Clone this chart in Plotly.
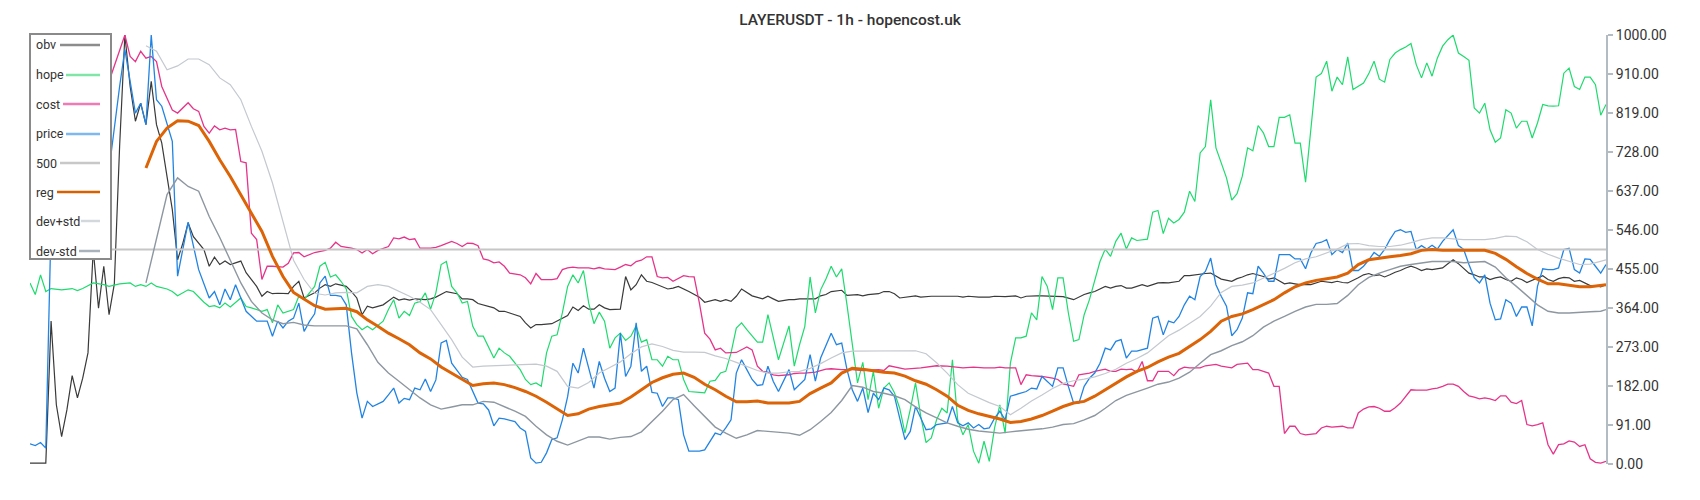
import plotly.graph_objects as go

# ---- data: (bar index, value) pairs, bar index 0..299 ----
price_pts = [
    (0, 47), (1, 43), (2, 50), (3, 37), (4, 560), (5, 610), (6, 650), (7, 630), (8, 690), (9, 700),
    (10, 660), (11, 720), (12, 700), (13, 740), (14, 710), (15, 686), (17, 880), (18, 966), (20, 818),
    (21, 841), (22, 791), (23, 1000), (24, 849), (25, 834), (27, 752), (28, 438), (30, 564), (32, 453),
    (34, 387), (35, 402), (36, 371), (37, 408), (38, 383), (39, 418), (41, 356), (43, 333), (45, 333),
    (46, 298), (47, 333), (48, 317), (49, 333), (50, 340), (51, 375), (52, 309), (53, 332), (54, 350),
    (55, 422), (56, 438), (57, 393), (58, 393), (59, 391), (60, 371), (61, 259), (62, 166), (63, 107),
    (64, 146), (65, 134), (67, 146), (68, 161), (69, 177), (70, 142), (71, 153), (72, 150), (73, 177),
    (74, 173), (75, 198), (76, 169), (77, 196), (78, 282), (79, 288), (80, 235), (82, 202), (83, 197),
    (84, 169), (85, 142), (86, 140), (87, 126), (88, 89), (89, 107), (90, 105), (92, 99), (93, 84),
    (94, 76), (95, 14), (96, 2), (97, 4), (98, 26), (99, 57), (100, 61), (101, 103), (102, 157),
    (103, 235), (104, 212), (105, 270), (106, 220), (107, 177), (108, 239), (109, 200), (110, 169),
    (111, 177), (112, 305), (113, 204), (114, 228), (115, 329), (116, 216), (117, 228), (118, 167),
    (119, 165), (120, 134), (121, 154), (122, 154), (123, 150), (124, 68), (125, 30), (127, 30),
    (128, 33), (130, 72), (131, 68), (132, 84), (133, 103), (134, 212), (135, 243), (136, 220),
    (137, 197), (138, 183), (139, 185), (140, 228), (141, 193), (142, 169), (144, 220), (145, 173),
    (146, 185), (147, 197), (148, 255), (149, 193), (150, 247), (151, 274), (152, 305), (153, 278),
    (154, 282), (155, 220), (156, 173), (157, 146), (158, 177), (159, 120), (160, 165), (161, 150),
    (162, 177), (163, 173), (164, 158), (165, 107), (166, 57), (167, 76), (168, 134), (169, 107),
    (170, 80), (171, 82), (172, 92), (174, 96), (175, 134), (176, 96), (177, 89), (178, 96), (179, 84),
    (180, 92), (181, 82), (182, 84), (183, 107), (184, 123), (185, 103), (186, 158), (187, 162),
    (188, 165), (189, 169), (190, 177), (191, 175), (192, 204), (193, 193), (194, 181), (195, 224),
    (196, 224), (197, 181), (198, 142), (199, 142), (200, 181), (201, 200), (202, 212), (203, 235),
    (204, 270), (205, 266), (206, 286), (207, 290), (208, 247), (209, 263), (210, 263), (212, 270),
    (213, 340), (214, 344), (215, 301), (216, 333), (217, 329), (218, 344), (219, 371), (220, 391),
    (221, 383), (222, 437), (223, 449), (224, 480), (225, 418), (226, 391), (227, 368), (228, 299),
    (229, 313), (230, 340), (231, 399), (232, 397), (233, 461), (234, 445), (235, 426), (236, 426),
    (237, 488), (238, 488), (239, 488), (240, 478), (241, 478), (242, 455), (243, 492), (244, 514),
    (245, 517), (246, 523), (247, 488), (248, 500), (249, 493), (250, 515), (251, 451), (252, 451),
    (253, 461), (254, 476), (255, 493), (256, 484), (257, 500), (258, 523), (259, 542), (260, 546),
    (261, 540), (262, 542), (263, 500), (264, 509), (265, 501), (266, 510), (267, 501), (268, 519),
    (269, 532), (270, 546), (271, 509), (272, 500), (273, 465), (274, 434), (275, 422), (276, 441),
    (277, 375), (278, 336), (279, 338), (280, 383), (281, 375), (282, 344), (283, 366), (284, 366),
    (285, 322), (286, 414), (287, 455), (288, 453), (289, 453), (290, 457), (291, 500), (292, 503),
    (293, 453), (294, 445), (295, 478), (296, 477), (297, 461), (298, 445), (299, 465),
]

hope_pts = [
    (0, 422), (1, 395), (2, 441), (3, 402), (4, 409), (6, 406), (8, 409), (9, 404), (10, 409), (12, 422),
    (14, 418), (15, 414), (17, 420), (19, 422), (20, 414), (21, 418), (22, 414), (23, 422), (24, 414),
    (26, 408), (27, 402), (28, 392), (30, 406), (31, 402), (33, 377), (34, 367), (35, 369), (36, 364),
    (37, 375), (38, 366), (40, 387), (41, 367), (42, 364), (44, 356), (45, 360), (46, 329), (47, 371),
    (48, 352), (50, 360), (51, 391), (52, 383), (54, 414), (55, 461), (56, 470), (57, 436), (58, 441),
    (59, 426), (60, 408), (61, 344), (62, 325), (63, 313), (64, 321), (65, 313), (67, 333), (68, 360),
    (69, 383), (70, 340), (71, 356), (72, 346), (73, 375), (74, 379), (75, 399), (76, 361), (77, 399),
    (78, 465), (79, 472), (80, 414), (81, 399), (82, 375), (83, 379), (84, 321), (85, 298), (86, 298),
    (87, 274), (88, 247), (89, 270), (90, 259), (91, 251), (93, 220), (94, 197), (95, 185), (96, 189),
    (97, 181), (98, 259), (99, 298), (100, 301), (101, 352), (102, 414), (103, 441), (104, 422),
    (105, 451), (106, 375), (107, 327), (108, 354), (109, 333), (110, 270), (111, 294), (112, 305),
    (113, 288), (114, 298), (115, 322), (116, 284), (117, 290), (118, 243), (119, 243), (120, 228),
    (121, 251), (122, 243), (123, 243), (124, 197), (125, 169), (127, 167), (128, 166), (129, 193),
    (130, 195), (131, 212), (132, 216), (133, 259), (134, 317), (135, 329), (136, 313), (138, 284),
    (139, 284), (140, 348), (141, 298), (142, 243), (144, 322), (145, 228), (146, 278), (147, 321),
    (148, 436), (149, 352), (150, 406), (151, 431), (152, 461), (153, 436), (154, 455), (155, 371),
    (157, 189), (158, 237), (159, 150), (160, 216), (161, 130), (162, 177), (163, 189), (164, 166),
    (165, 130), (166, 72), (167, 127), (168, 189), (169, 111), (170, 50), (171, 61), (172, 103),
    (173, 130), (174, 119), (175, 243), (176, 103), (177, 68), (178, 92), (179, 30), (180, 2), (181, 53),
    (182, 6), (183, 84), (184, 138), (185, 72), (186, 235), (187, 294), (188, 294), (189, 298),
    (190, 352), (191, 336), (192, 437), (193, 414), (194, 360), (195, 434), (196, 434), (197, 352),
    (198, 286), (199, 290), (200, 348), (201, 383), (202, 430), (203, 472), (204, 501), (205, 484),
    (206, 519), (207, 538), (208, 501), (209, 527), (210, 521), (212, 524), (213, 587), (214, 591),
    (215, 537), (216, 573), (217, 562), (218, 570), (219, 587), (220, 636), (221, 612), (222, 725),
    (223, 740), (224, 849), (225, 737), (226, 702), (227, 667), (228, 615), (229, 630), (230, 671),
    (231, 737), (232, 730), (233, 789), (234, 772), (235, 740), (236, 740), (237, 808), (238, 808),
    (239, 814), (240, 748), (241, 748), (242, 657), (243, 787), (244, 902), (245, 910), (246, 939),
    (247, 869), (248, 902), (249, 884), (250, 949), (251, 873), (252, 880), (253, 888), (254, 910),
    (255, 939), (256, 897), (257, 890), (258, 943), (259, 958), (260, 966), (261, 972), (262, 980),
    (263, 931), (264, 900), (265, 935), (266, 904), (267, 946), (268, 974), (269, 989), (270, 1000),
    (271, 958), (272, 950), (273, 941), (274, 830), (275, 818), (276, 841), (277, 779), (278, 750),
    (279, 760), (280, 826), (281, 818), (282, 783), (283, 799), (284, 799), (285, 760), (286, 795),
    (287, 838), (288, 835), (289, 834), (290, 835), (291, 911), (292, 923), (293, 880), (294, 873),
    (295, 902), (296, 902), (297, 884), (298, 813), (299, 838),
]

obv_pts = [
    (0, 2), (3, 2), (4, 333), (5, 138), (6, 64), (7, 126), (8, 206), (9, 154), (10, 200), (11, 259),
    (12, 500), (13, 363), (14, 461), (15, 348), (16, 420), (17, 740), (18, 1000), (19, 880), (20, 799),
    (21, 841), (22, 791), (23, 892), (24, 791), (25, 748), (26, 670), (27, 593), (28, 476), (29, 515),
    (30, 562), (31, 530), (33, 500), (34, 461), (35, 482), (36, 465), (37, 473), (38, 465), (40, 473),
    (41, 446), (43, 414), (44, 391), (45, 402), (46, 397), (47, 398), (49, 397), (50, 414), (51, 426),
    (52, 387), (54, 399), (55, 410), (56, 418), (57, 414), (58, 420), (60, 414), (61, 402), (62, 387),
    (63, 348), (64, 368), (65, 364), (67, 371), (68, 379), (69, 389), (70, 382), (71, 385), (72, 382),
    (73, 385), (75, 383), (76, 385), (77, 389), (78, 395), (79, 402), (81, 397), (82, 385), (83, 385),
    (84, 383), (85, 374), (87, 368), (88, 364), (89, 356), (90, 356), (91, 352), (92, 348), (93, 344),
    (94, 329), (95, 317), (96, 325), (97, 325), (99, 327), (100, 333), (101, 340), (102, 346),
    (103, 366), (104, 358), (105, 369), (106, 361), (107, 361), (108, 371), (109, 364), (110, 360),
    (112, 361), (113, 437), (114, 406), (115, 418), (116, 441), (117, 426), (118, 423), (120, 414),
    (121, 408), (122, 410), (123, 414), (125, 402), (126, 395), (127, 389), (128, 377), (130, 383),
    (131, 379), (132, 383), (133, 379), (134, 391), (135, 408), (136, 400), (137, 392), (139, 385),
    (140, 391), (141, 385), (142, 379), (144, 383), (145, 383), (146, 385), (147, 385), (149, 385),
    (150, 392), (151, 395), (152, 402), (154, 405), (155, 393), (157, 395), (158, 392), (159, 395),
    (161, 397), (162, 402), (163, 402), (164, 397), (165, 387), (166, 389), (168, 392), (169, 389),
    (171, 391), (173, 391), (175, 392), (176, 391), (177, 389), (178, 391), (180, 389), (181, 389),
    (182, 389), (183, 391), (185, 390), (187, 392), (188, 387), (189, 391), (190, 392), (191, 392),
    (192, 392), (194, 391), (195, 392), (196, 390), (198, 383), (199, 390), (200, 395), (201, 399),
    (202, 402), (204, 414), (205, 410), (206, 414), (207, 416), (208, 410), (209, 410), (211, 418),
    (212, 414), (213, 418), (214, 422), (215, 423), (216, 422), (218, 426), (219, 439), (220, 439),
    (221, 441), (223, 444), (224, 445), (225, 437), (226, 431), (228, 426), (229, 432), (230, 436),
    (231, 441), (232, 444), (234, 437), (235, 431), (236, 434), (238, 420), (239, 422), (240, 420),
    (241, 418), (243, 418), (244, 422), (245, 426), (247, 423), (248, 426), (249, 423), (250, 422),
    (252, 434), (253, 441), (254, 444), (255, 439), (256, 441), (257, 436), (258, 441), (259, 447),
    (260, 451), (261, 457), (262, 461), (263, 457), (264, 451), (265, 455), (266, 453), (267, 455),
    (268, 457), (269, 467), (270, 476), (271, 467), (272, 457), (273, 445), (274, 441), (275, 436),
    (276, 436), (277, 430), (278, 434), (279, 436), (280, 430), (281, 426), (282, 434), (283, 430),
    (284, 423), (285, 428), (286, 434), (287, 439), (288, 430), (289, 426), (290, 432), (291, 435),
    (292, 434), (293, 426), (294, 428), (295, 422), (296, 416), (297, 416), (298, 413), (299, 418),
]

cost_pts = [
    (0, 520), (2, 560), (4, 620), (6, 680), (8, 740), (10, 800), (12, 850), (14, 880), (15, 892),
    (18, 1000), (19, 950), (20, 938), (21, 962), (22, 946), (23, 950), (24, 938), (25, 880), (26, 853),
    (27, 825), (28, 818), (29, 830), (30, 842), (31, 828), (32, 822), (33, 787), (34, 771), (35, 788),
    (36, 779), (37, 783), (38, 779), (39, 780), (40, 705), (41, 702), (42, 538), (43, 523), (44, 430),
    (45, 461), (46, 461), (48, 459), (49, 468), (50, 492), (51, 493), (52, 483), (53, 488), (54, 493),
    (56, 498), (57, 503), (58, 517), (59, 507), (61, 503), (62, 500), (63, 492), (64, 500), (65, 490),
    (66, 498), (68, 507), (69, 527), (70, 525), (71, 529), (72, 523), (73, 525), (74, 503), (76, 503),
    (77, 505), (78, 509), (80, 519), (81, 514), (82, 507), (83, 515), (84, 514), (85, 509), (86, 478),
    (87, 475), (88, 469), (89, 471), (90, 461), (91, 445), (93, 441), (94, 434), (95, 420), (96, 444),
    (97, 430), (99, 430), (100, 432), (101, 453), (102, 457), (103, 459), (104, 457), (106, 457),
    (107, 455), (108, 458), (109, 455), (111, 453), (112, 459), (113, 465), (114, 462), (115, 472),
    (116, 475), (117, 483), (118, 483), (119, 437), (120, 434), (121, 435), (122, 426), (124, 439),
    (125, 437), (126, 436), (127, 375), (128, 305), (129, 291), (130, 266), (131, 270), (132, 259),
    (134, 260), (135, 266), (136, 273), (137, 266), (138, 228), (139, 216), (140, 214), (141, 208),
    (142, 206), (144, 208), (145, 211), (146, 212), (147, 212), (149, 214), (150, 218), (151, 221),
    (152, 222), (154, 220), (156, 220), (158, 218), (161, 220), (162, 218), (163, 229), (165, 224),
    (166, 221), (169, 224), (171, 228), (172, 229), (174, 228), (176, 226), (177, 224), (179, 226),
    (181, 224), (183, 224), (184, 226), (185, 224), (187, 224), (188, 185), (189, 208), (190, 206),
    (192, 204), (194, 200), (195, 197), (196, 187), (198, 181), (199, 208), (201, 212), (202, 216),
    (204, 221), (205, 216), (206, 216), (207, 221), (208, 220), (209, 221), (210, 214), (211, 239),
    (212, 194), (213, 194), (214, 216), (215, 216), (216, 216), (217, 206), (218, 220), (219, 226),
    (220, 224), (221, 224), (222, 224), (223, 229), (225, 232), (226, 228), (227, 226), (228, 224),
    (229, 232), (231, 235), (232, 220), (233, 220), (234, 216), (235, 212), (236, 181), (237, 181),
    (238, 71), (239, 88), (240, 88), (241, 71), (242, 68), (244, 71), (245, 84), (246, 88), (247, 86),
    (249, 88), (250, 84), (251, 84), (252, 119), (253, 128), (254, 133), (255, 134), (256, 130),
    (257, 123), (258, 123), (259, 131), (260, 142), (261, 158), (262, 173), (263, 172), (264, 172),
    (265, 172), (266, 175), (267, 177), (268, 181), (269, 186), (270, 186), (271, 181), (272, 169),
    (273, 159), (274, 156), (275, 152), (276, 154), (277, 152), (278, 148), (279, 159), (280, 159),
    (281, 144), (282, 141), (283, 148), (284, 92), (285, 89), (286, 92), (287, 96), (288, 45), (289, 23),
    (290, 45), (291, 47), (292, 54), (293, 51), (294, 41), (295, 45), (296, 12), (297, 4), (298, 2),
    (299, 6),
]

# the horizontal reference level
level_t = [0, 299]
level = [500, 500]

# regression line and its bands: one value every second bar from bar 22 to 298, then bar 299
band_t = [min(2 * k, 299) for k in range(11, 151)]
reg = [690, 752, 783, 800, 799, 789, 752, 709, 670, 628, 585, 542, 484, 437, 400, 385, 369, 361, 362, 363,
       355, 336, 321, 305, 292, 278, 259, 245, 226, 212, 197, 183, 187, 189, 185, 178, 169, 158, 144, 128,
       113, 117, 128, 134, 138, 142, 156, 173, 190, 201, 209, 212, 202, 186, 173, 158, 145, 145, 147, 142,
       142, 142, 146, 164, 177, 189, 212, 223, 221, 217, 214, 212, 205, 194, 186, 173, 158, 137, 125, 117,
       111, 105, 97, 99, 105, 113, 123, 134, 142, 146, 158, 173, 187, 203, 216, 225, 238, 249, 258, 273,
       290, 309, 333, 344, 350, 360, 371, 383, 399, 413, 422, 428, 432, 436, 445, 465, 476, 480, 483, 486,
       490, 498, 500, 498, 498, 498, 498, 498, 491, 477, 460, 444, 431, 420, 420, 416, 413, 413, 416, 418]

dev_plus = [975, 962, 919, 928, 944, 944, 931, 900, 884, 849, 787, 729, 655, 562, 475, 430, 398, 394, 399, 400,
            399, 414, 418, 414, 402, 391, 377, 360, 325, 290, 249, 226, 228, 229, 230, 232, 232, 233, 228, 216,
            181, 177, 190, 212, 225, 238, 257, 273, 280, 274, 265, 261, 261, 260, 252, 246, 237, 228, 218, 212,
            212, 215, 216, 223, 234, 247, 259, 263, 263, 264, 264, 263, 263, 264, 257, 236, 212, 185, 165, 154,
            143, 134, 115, 130, 147, 161, 176, 188, 194, 198, 203, 211, 221, 235, 246, 259, 280, 299, 312, 327,
            344, 368, 400, 414, 417, 422, 433, 445, 456, 469, 478, 483, 492, 501, 513, 514, 509, 507, 507, 510,
            516, 523, 527, 527, 525, 523, 523, 523, 526, 531, 530, 518, 500, 489, 480, 473, 465, 466, 473, 476]

dev_minus = [422, 523, 628, 667, 647, 636, 577, 528, 476, 422, 379, 352, 336, 327, 330, 324, 322, 322, 322, 322,
             315, 278, 237, 212, 193, 173, 154, 138, 128, 133, 138, 138, 146, 144, 134, 123, 111, 88, 68, 53,
             44, 53, 63, 63, 58, 62, 64, 75, 99, 123, 150, 162, 136, 110, 86, 72, 60, 68, 78, 76,
             74, 72, 67, 80, 99, 120, 148, 183, 179, 169, 165, 159, 150, 133, 119, 107, 96, 88, 81, 77,
             74, 72, 75, 78, 80, 82, 86, 92, 94, 103, 113, 130, 148, 160, 168, 177, 186, 191, 200, 214,
             235, 255, 264, 276, 285, 299, 319, 333, 344, 356, 366, 372, 372, 374, 393, 418, 435, 445, 453, 461,
             465, 469, 472, 472, 472, 469, 470, 472, 459, 434, 414, 392, 371, 356, 352, 352, 354, 355, 356, 360]

y_ticks = [0, 91, 182, 273, 364, 455, 546, 637, 728, 819, 910, 1000]
title_text = "LAYERUSDT - 1h - hopencost.uk"


def unzip(pts):
    return [p[0] for p in pts], [p[1] for p in pts]


obv_t, obv = unzip(obv_pts)
hope_t, hope = unzip(hope_pts)
cost_t, cost = unzip(cost_pts)
price_t, price = unzip(price_pts)

series = [
    # name, x, y, line colour, width, legend colour
    ("obv", obv_t, obv, "#3a3a3a", 1.2, "#8c8c8c"),
    ("hope", hope_t, hope, "#1edb6e", 1.2, "#7fe6a8"),
    ("cost", cost_t, cost, "#e6348a", 1.3, "#f07ab6"),
    ("price", price_t, price, "#2284e2", 1.3, "#7eb8ee"),
    ("500", level_t, level, "#c6c6c6", 2.0, "#c8c8c8"),
    ("reg", band_t, reg, "#dc6306", 3.0, "#d96000"),
    ("dev+std", band_t, dev_plus, "#c3c9cf", 1.2, "#d3d8dc"),
    ("dev-std", band_t, dev_minus, "#8d97a1", 1.4, "#a9b2ba"),
]

fig = go.Figure()
for name, xs, ys, col, w, _ in series:
    fig.add_trace(go.Scatter(x=xs, y=ys, mode="lines", name=name,
                             line=dict(color=col, width=w), showlegend=False,
                             hoverinfo="skip"))

# the page body adds an 8px offset; positions below are in window pixels
OFF = 8
W, H = 1700, 500
PX0, PX1, PY0, PY1 = 30, 1606, 35, 464  # plot area in window pixels
L, T = PX0 - OFF, PY0 - OFF
R, B = W - (PX1 - OFF), H - (PY1 - OFF)
PW, PH = PX1 - PX0, PY1 - PY0


def px(xp):
    return (xp - PX0) / PW


def py(yp):
    return (PY1 - yp) / PH


shapes = [dict(type="rect", xref="paper", yref="paper", layer="above",
               x0=px(30), x1=px(111), y0=py(259), y1=py(34),
               line=dict(color="#8a8a8a", width=2), fillcolor="white")]
annotations = []
leg_y = [45, 75, 104, 134, 163, 192, 221, 251]
leg_x0 = [60, 66, 63, 66, 60, 57, 81, 79]
for (name, _, _, _, _, lc), yy, x0 in zip(series, leg_y, leg_x0):
    shapes.append(dict(type="line", xref="paper", yref="paper", layer="above",
                       x0=px(x0), x1=px(100), y0=py(yy), y1=py(yy),
                       line=dict(color=lc, width=2.5)))
    annotations.append(dict(text=name, xref="paper", yref="paper", x=px(34), y=py(yy),
                            xanchor="left", yanchor="middle", showarrow=False,
                            font=dict(family="Roboto", size=12.5, color="#333333")))

fig.update_layout(
    width=W, height=H,
    margin=dict(l=L, r=R, t=T, b=B, autoexpand=False),
    paper_bgcolor="white", plot_bgcolor="white",
    title=dict(text=title_text, x=(850 - OFF) / W, xanchor="center", xref="container",
               y=1 - (20 - OFF) / H, yanchor="middle", yref="container",
               font=dict(family="Roboto", size=15.5, color="#333333", weight=500)),
    xaxis=dict(range=[0, 299], visible=False),
    yaxis=dict(range=[0, 1000], side="right", tickvals=y_ticks,
               ticktext=[f"{v:.2f}" for v in y_ticks],
               showgrid=False, zeroline=False, showline=True,
               linecolor="#b3bbc3", linewidth=2, ticks="outside", ticklen=5,
               tickcolor="#b3bbc3", tickwidth=1.5,
               tickfont=dict(family="Roboto", size=14, color="#333333")),
    shapes=shapes, annotations=annotations, showlegend=False,
)

fig.write_html("out.html")
